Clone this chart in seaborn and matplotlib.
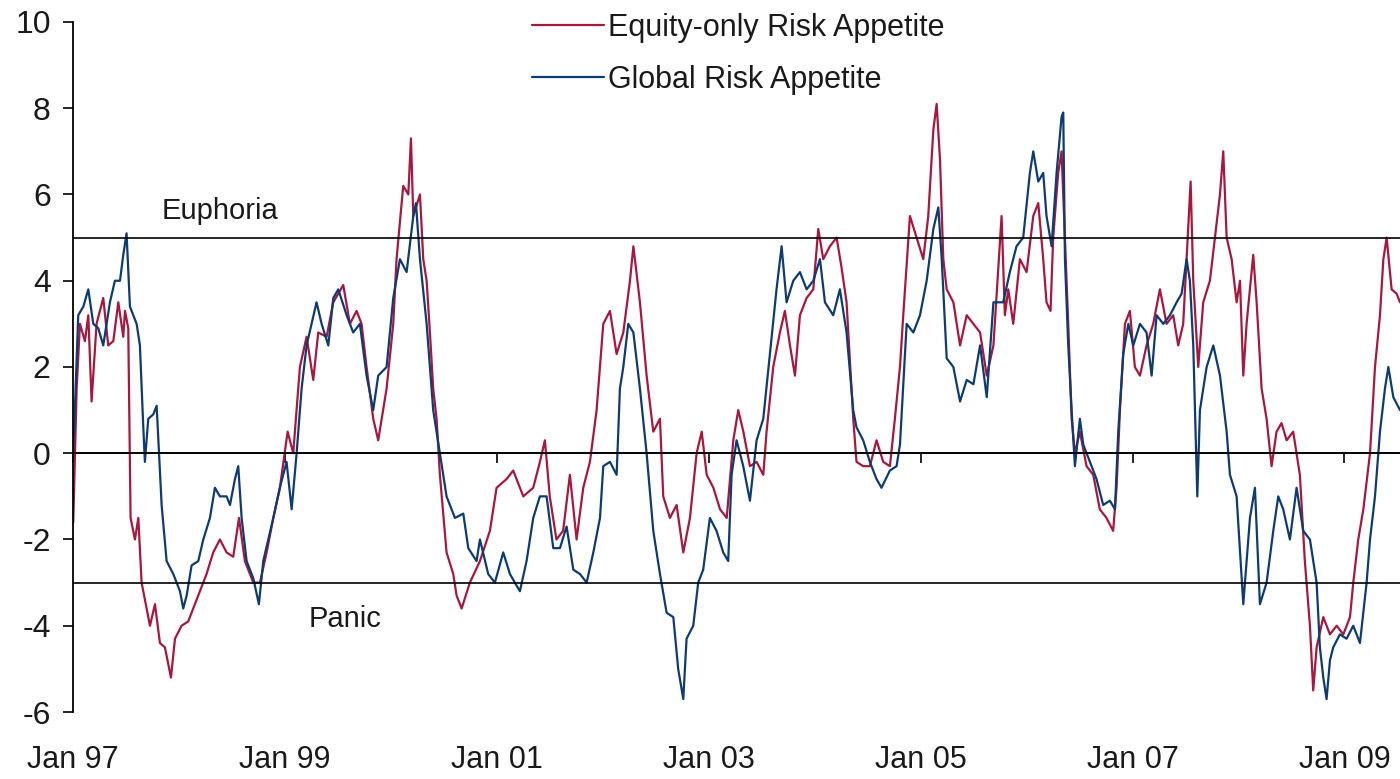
import pandas as pd
import matplotlib.pyplot as plt
import seaborn as sns

# values, x in decimal years
eq_years = [1997.003, 1997.035, 1997.066, 1997.113, 1997.145, 1997.176, 1997.223, 1997.286, 1997.333, 1997.381,
            1997.428, 1997.475, 1997.491, 1997.522, 1997.544, 1997.585, 1997.617, 1997.648, 1997.695, 1997.727,
            1997.774, 1997.821, 1997.868, 1997.925, 1997.963, 1998.025, 1998.088, 1998.151, 1998.198, 1998.261,
            1998.324, 1998.387, 1998.450, 1998.513, 1998.567, 1998.623, 1998.702, 1998.765, 1998.828, 1998.891,
            1998.953, 1999.026, 1999.079, 1999.142, 1999.205, 1999.268, 1999.315, 1999.394, 1999.457, 1999.551,
            1999.614, 1999.677, 1999.724, 1999.771, 1999.834, 1999.881, 1999.960, 2000.023, 2000.054, 2000.117,
            2000.165, 2000.190, 2000.212, 2000.275, 2000.306, 2000.338, 2000.369, 2000.400, 2000.432, 2000.463,
            2000.526, 2000.589, 2000.621, 2000.668, 2000.746, 2000.841, 2000.935, 2000.998, 2001.092, 2001.155,
            2001.250, 2001.344, 2001.407, 2001.454, 2001.500, 2001.563, 2001.626, 2001.690, 2001.753, 2001.816,
            2001.879, 2001.942, 2002.005, 2002.068, 2002.131, 2002.194, 2002.257, 2002.289, 2002.351, 2002.414,
            2002.477, 2002.540, 2002.571, 2002.634, 2002.697, 2002.760, 2002.823, 2002.886, 2002.934, 2002.981,
            2003.044, 2003.107, 2003.170, 2003.232, 2003.279, 2003.327, 2003.389, 2003.452, 2003.515, 2003.546,
            2003.609, 2003.672, 2003.719, 2003.767, 2003.814, 2003.861, 2003.924, 2003.987, 2004.034, 2004.081,
            2004.144, 2004.207, 2004.254, 2004.301, 2004.364, 2004.395, 2004.458, 2004.521, 2004.584, 2004.647,
            2004.710, 2004.757, 2004.805, 2004.836, 2004.899, 2004.962, 2005.025, 2005.072, 2005.120, 2005.151,
            2005.183, 2005.214, 2005.246, 2005.309, 2005.372, 2005.435, 2005.498, 2005.561, 2005.624, 2005.687,
            2005.764, 2005.795, 2005.827, 2005.874, 2005.937, 2006.000, 2006.063, 2006.110, 2006.157, 2006.188,
            2006.226, 2006.251, 2006.298, 2006.330, 2006.362, 2006.393, 2006.425, 2006.456, 2006.503, 2006.566,
            2006.629, 2006.691, 2006.754, 2006.817, 2006.849, 2006.881, 2006.928, 2006.975, 2007.022, 2007.070,
            2007.132, 2007.195, 2007.258, 2007.321, 2007.384, 2007.431, 2007.478, 2007.510, 2007.548, 2007.573,
            2007.620, 2007.667, 2007.730, 2007.777, 2007.825, 2007.856, 2007.888, 2007.935, 2007.982, 2008.014,
            2008.045, 2008.076, 2008.139, 2008.171, 2008.218, 2008.265, 2008.312, 2008.359, 2008.406, 2008.454,
            2008.516, 2008.579, 2008.626, 2008.674, 2008.705, 2008.737, 2008.800, 2008.863, 2008.926, 2008.989,
            2009.052, 2009.083, 2009.130, 2009.178, 2009.241, 2009.288, 2009.335, 2009.367, 2009.398, 2009.445,
            2009.492, 2009.524]
eq_values = [-1.6, 1.5, 3.0, 2.6, 3.2, 1.2, 3.0, 3.6, 2.5, 2.6,
             3.5, 2.7, 3.3, 2.9, -1.5, -2.0, -1.5, -3.0, -3.6, -4.0,
             -3.5, -4.4, -4.5, -5.2, -4.3, -4.0, -3.9, -3.5, -3.2, -2.8,
             -2.3, -2.0, -2.3, -2.4, -1.5, -2.5, -3.0, -3.0, -2.3, -1.5,
             -0.8, 0.5, 0.0, 2.0, 2.7, 1.7, 2.8, 2.7, 3.5, 3.9,
             3.0, 3.3, 3.0, 2.0, 0.8, 0.3, 1.5, 3.0, 4.5, 6.2,
             6.0, 7.3, 5.5, 6.0, 4.5, 4.0, 2.8, 1.5, 0.8, -0.5,
             -2.3, -2.8, -3.3, -3.6, -3.0, -2.5, -1.8, -0.8, -0.6, -0.4,
             -1.0, -0.8, -0.2, 0.3, -1.0, -2.0, -1.8, -0.5, -2.0, -0.8,
             -0.2, 1.0, 3.0, 3.3, 2.3, 2.8, 4.0, 4.8, 3.5, 1.8,
             0.5, 0.8, -1.0, -1.5, -1.2, -2.3, -1.5, 0.0, 0.5, -0.5,
             -0.8, -1.3, -1.5, 0.3, 1.0, 0.5, -0.3, -0.2, -0.5, 0.5,
             2.0, 2.8, 3.3, 2.5, 1.8, 3.2, 3.6, 3.8, 5.2, 4.5,
             4.8, 5.0, 4.3, 3.5, 0.8, -0.2, -0.3, -0.3, 0.3, -0.2,
             -0.3, 0.8, 2.0, 3.2, 5.5, 5.0, 4.5, 5.5, 7.5, 8.1,
             6.8, 4.5, 3.8, 3.5, 2.5, 3.2, 3.0, 2.8, 1.8, 2.5,
             5.5, 3.2, 3.8, 3.0, 4.5, 4.2, 5.5, 5.8, 4.5, 3.5,
             3.3, 5.0, 6.5, 7.0, 5.0, 3.0, 0.8, 0.0, 0.5, -0.3,
             -0.5, -1.3, -1.5, -1.8, -0.8, 1.0, 3.0, 3.3, 2.0, 1.8,
             2.5, 3.0, 3.8, 3.0, 3.2, 2.5, 3.0, 4.5, 6.3, 4.0,
             2.0, 3.5, 4.0, 5.0, 6.0, 7.0, 5.0, 4.5, 3.5, 4.0,
             1.8, 3.0, 4.6, 3.5, 1.5, 0.8, -0.3, 0.5, 0.7, 0.3,
             0.5, -0.5, -2.5, -4.0, -5.5, -4.5, -3.8, -4.2, -4.0, -4.2,
             -3.8, -3.0, -2.0, -1.3, 0.0, 2.0, 3.2, 4.5, 5.0, 3.8,
             3.7, 3.5]

gl_years = [1997.003, 1997.050, 1997.098, 1997.145, 1997.192, 1997.239, 1997.286, 1997.349, 1997.396, 1997.444,
            1997.475, 1997.506, 1997.538, 1997.601, 1997.632, 1997.664, 1997.679, 1997.711, 1997.758, 1997.790,
            1997.812, 1997.837, 1997.884, 1997.947, 1998.010, 1998.041, 1998.073, 1998.120, 1998.183, 1998.230,
            1998.293, 1998.340, 1998.387, 1998.450, 1998.482, 1998.529, 1998.560, 1998.592, 1998.639, 1998.702,
            1998.755, 1998.796, 1998.891, 1998.953, 1999.016, 1999.064, 1999.111, 1999.158, 1999.205, 1999.252,
            1999.299, 1999.347, 1999.410, 1999.457, 1999.504, 1999.583, 1999.645, 1999.708, 1999.771, 1999.834,
            1999.881, 1999.960, 2000.023, 2000.086, 2000.149, 2000.212, 2000.237, 2000.275, 2000.338, 2000.400,
            2000.463, 2000.526, 2000.605, 2000.684, 2000.731, 2000.809, 2000.841, 2000.919, 2000.982, 2001.061,
            2001.124, 2001.218, 2001.281, 2001.344, 2001.407, 2001.470, 2001.533, 2001.596, 2001.659, 2001.722,
            2001.785, 2001.848, 2001.911, 2001.974, 2002.005, 2002.068, 2002.131, 2002.162, 2002.194, 2002.241,
            2002.289, 2002.351, 2002.414, 2002.477, 2002.540, 2002.603, 2002.666, 2002.712, 2002.760, 2002.791,
            2002.854, 2002.901, 2002.948, 2003.011, 2003.074, 2003.137, 2003.184, 2003.216, 2003.263, 2003.326,
            2003.389, 2003.452, 2003.515, 2003.577, 2003.640, 2003.688, 2003.735, 2003.798, 2003.861, 2003.924,
            2003.987, 2004.050, 2004.097, 2004.175, 2004.238, 2004.301, 2004.364, 2004.395, 2004.458, 2004.521,
            2004.584, 2004.631, 2004.710, 2004.773, 2004.805, 2004.868, 2004.931, 2004.994, 2005.057, 2005.120,
            2005.167, 2005.199, 2005.246, 2005.309, 2005.372, 2005.435, 2005.498, 2005.561, 2005.624, 2005.687,
            2005.779, 2005.842, 2005.905, 2005.968, 2006.031, 2006.063, 2006.110, 2006.157, 2006.188, 2006.236,
            2006.283, 2006.330, 2006.346, 2006.362, 2006.393, 2006.425, 2006.456, 2006.503, 2006.535, 2006.597,
            2006.660, 2006.723, 2006.786, 2006.834, 2006.865, 2006.912, 2006.960, 2007.007, 2007.070, 2007.132,
            2007.180, 2007.227, 2007.290, 2007.353, 2007.416, 2007.463, 2007.510, 2007.541, 2007.573, 2007.611,
            2007.636, 2007.699, 2007.762, 2007.825, 2007.888, 2007.919, 2007.982, 2008.045, 2008.076, 2008.108,
            2008.155, 2008.202, 2008.265, 2008.328, 2008.375, 2008.422, 2008.485, 2008.548, 2008.611, 2008.674,
            2008.737, 2008.768, 2008.800, 2008.831, 2008.863, 2008.894, 2008.957, 2009.020, 2009.083, 2009.146,
            2009.209, 2009.241, 2009.288, 2009.335, 2009.382, 2009.414, 2009.461, 2009.524]
gl_values = [0.0, 3.2, 3.4, 3.8, 3.0, 2.9, 2.5, 3.5, 4.0, 4.0,
             4.6, 5.1, 3.4, 3.0, 2.5, 0.6, -0.2, 0.8, 0.9, 1.1,
             0.0, -1.2, -2.5, -2.8, -3.2, -3.6, -3.3, -2.6, -2.5, -2.0,
             -1.5, -0.8, -1.0, -1.0, -1.2, -0.6, -0.3, -1.5, -2.5, -2.9,
             -3.5, -2.5, -1.5, -0.8, -0.2, -1.3, 0.0, 1.5, 2.5, 3.0,
             3.5, 3.0, 2.5, 3.6, 3.8, 3.2, 2.8, 3.0, 1.8, 1.0,
             1.8, 2.0, 3.6, 4.5, 4.2, 5.5, 5.8, 4.5, 3.0, 1.0,
             0.0, -1.0, -1.5, -1.4, -2.2, -2.5, -2.0, -2.8, -3.0, -2.3,
             -2.8, -3.2, -2.5, -1.5, -1.0, -1.0, -2.2, -2.2, -1.7, -2.7,
             -2.8, -3.0, -2.3, -1.5, -0.3, -0.2, -0.5, 1.5, 2.0, 3.0,
             2.8, 1.5, 0.0, -1.8, -2.8, -3.7, -3.8, -5.0, -5.7, -4.3,
             -4.0, -3.0, -2.7, -1.5, -1.8, -2.3, -2.5, -0.5, 0.3, -0.3,
             -1.1, 0.3, 0.8, 2.3, 3.8, 4.8, 3.5, 4.0, 4.2, 3.8,
             4.0, 4.5, 3.5, 3.2, 3.8, 2.8, 1.0, 0.6, 0.3, -0.2,
             -0.6, -0.8, -0.4, -0.3, 0.2, 3.0, 2.8, 3.2, 4.0, 5.2,
             5.7, 4.5, 2.2, 2.0, 1.2, 1.7, 1.6, 2.5, 1.3, 3.5,
             3.5, 4.2, 4.8, 5.0, 6.5, 7.0, 6.3, 6.5, 5.5, 4.8,
             6.5, 7.8, 7.9, 4.5, 2.5, 1.0, -0.3, 0.8, 0.2, -0.2,
             -0.6, -1.2, -1.1, -1.3, 0.5, 2.3, 3.0, 2.5, 3.0, 2.8,
             1.8, 3.2, 3.0, 3.2, 3.5, 3.7, 4.5, 4.0, 2.5, -1.0,
             1.0, 2.0, 2.5, 1.8, 0.5, -0.5, -1.0, -3.5, -2.5, -1.5,
             -0.8, -3.5, -3.0, -1.8, -1.0, -1.3, -2.0, -0.8, -1.8, -2.0,
             -3.0, -4.5, -5.2, -5.7, -4.8, -4.5, -4.2, -4.3, -4.0, -4.4,
             -3.0, -2.0, -1.0, 0.5, 1.5, 2.0, 1.3, 1.0]

series_names = ['Equity-only Risk Appetite', 'Global Risk Appetite']
tick_years = [1997, 1999, 2001, 2003, 2005, 2007, 2009]
tick_labels = ['Jan 97', 'Jan 99', 'Jan 01', 'Jan 03', 'Jan 05', 'Jan 07', 'Jan 09']
levels = [5, 0, -3]

df = pd.concat([
    pd.DataFrame({'year': eq_years, 'value': eq_values, 'series': series_names[0]}),
    pd.DataFrame({'year': gl_years, 'value': gl_values, 'series': series_names[1]}),
])

sns.set_style('white')
plt.rcParams['font.family'] = ['Liberation Sans', 'DejaVu Sans']
plt.rcParams['axes.unicode_minus'] = False

fig = plt.figure(figsize=(14, 7.79), dpi=100)
ax = fig.add_axes([0.0521, 0.086, 0.9479, 0.8858])
sns.lineplot(data=df, x='year', y='value', hue='series', estimator=None,
             palette={series_names[0]: '#A8173D', series_names[1]: '#0D3B72'},
             linewidth=1.6, ax=ax)

for lv in levels:
    ax.axhline(lv, color='black', lw=1.2, zorder=3)

ax.text(1997.84, 5.61, 'Euphoria', fontsize=21, va='center', color='#1a1a1a')
ax.text(1999.22, -3.85, 'Panic', fontsize=21, va='center', color='#1a1a1a')

ax.set_xlim(1997.0, 2009.524)
ax.set_ylim(-6, 10)
ax.set_yticks(range(-6, 11, 2))
ax.set_xticks(tick_years, tick_labels)
ax.set_xlabel('')
ax.set_ylabel('')
for s in ['top', 'right']:
    ax.spines[s].set_visible(False)
ax.spines['bottom'].set_position(('data', 0))
ax.spines['left'].set_linewidth(1.3)
ax.spines['left'].set_color('black')
ax.spines['bottom'].set_linewidth(1.2)
ax.spines['bottom'].set_color('black')
ax.tick_params(axis='y', length=7, width=1.2, pad=9, labelsize=23, direction='out',
               left=True, colors='black', labelcolor='#1a1a1a')
ax.tick_params(axis='x', length=7, width=1.2, pad=203, labelsize=22, direction='out',
               bottom=True, colors='black', labelcolor='#1a1a1a')

handles, labels = ax.get_legend_handles_labels()
leg = ax.legend(handles, labels, loc='center left', bbox_to_anchor=(0.38, 0.931),
                bbox_transform=fig.transFigure, frameon=False, fontsize=22,
                handlelength=2.35, handletextpad=0.15, labelspacing=0.72,
                borderpad=0, borderaxespad=0)
for t in leg.get_texts():
    t.set_color('#1a1a1a')

fig.savefig('out.png', dpi=100)
